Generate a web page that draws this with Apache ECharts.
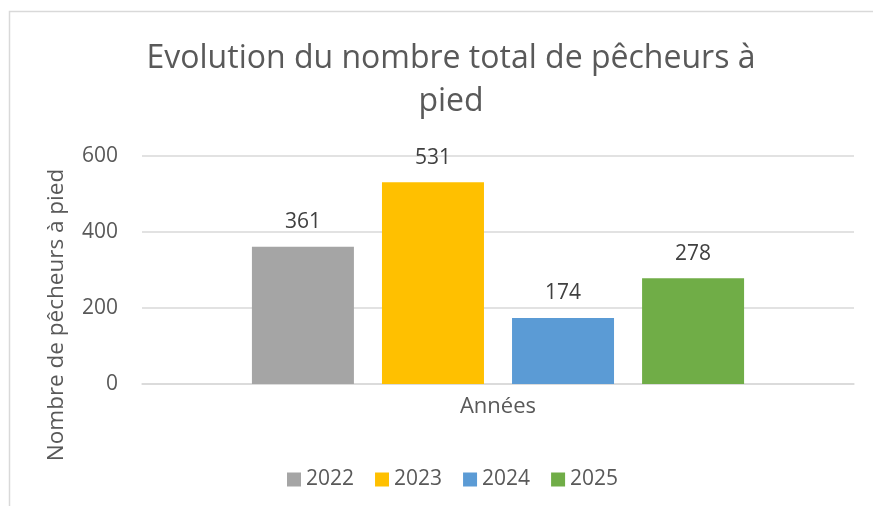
<!DOCTYPE html>
<html>
<head>
<meta charset="utf-8">
<script src="https://cdn.jsdelivr.net/npm/echarts@6/dist/echarts.min.js"></script>
<style>
  html, body { margin: 0; padding: 0; background: #fff; }
  #chart { width: 873px; height: 506px; }
</style>
</head>
<body>
<div id="chart"></div>
<script>
// data
const years = ['2022', '2023', '2024', '2025'];
const counts = [361, 531, 174, 278];
const colors = ['#A5A5A5', '#FFC000', '#5B9BD5', '#70AD47'];
const category = ['Années'];

const font = '"Open Sans", "Noto Sans", sans-serif';
const textColor = '#595959';

let myChart = echarts.init(document.getElementById('chart'), null, {renderer: 'canvas'});

const series = years.map((y, i) => ({
  name: y,
  type: 'bar',
  data: [counts[i]],
  barWidth: 102,
  barGap: '27.5%',
  itemStyle: {color: colors[i]},
  label: {
    show: true,
    position: 'top',
    distance: 14,
    color: '#404040',
    fontFamily: font,
    fontSize: 21
  }
}));

myChart.setOption({
  animation: false,
  title: {
    text: 'Evolution du nombre total de pêcheurs à\npied',
    left: 446,
    textAlign: 'center',
    top: 32,
    textStyle: {
      fontFamily: font,
      fontSize: 32,
      fontWeight: 'normal',
      color: textColor,
      lineHeight: 43
    }
  },
  legend: {
    left: 282,
    top: 464,
    itemWidth: 14,
    itemHeight: 14,
    itemGap: 21,
    icon: 'rect',
    textStyle: {fontFamily: font, fontSize: 21, color: textColor}
  },
  grid: {left: 142, right: 19, top: 156, bottom: 122},
  xAxis: {
    type: 'category',
    data: category,
    axisLine: {lineStyle: {color: '#D9D9D9', width: 1.5}},
    axisTick: {show: false},
    axisLabel: {margin: 12, fontFamily: font, fontSize: 22, color: textColor}
  },
  yAxis: {
    type: 'value',
    min: 0,
    max: 600,
    interval: 200,
    axisLine: {show: false},
    axisTick: {show: false},
    splitLine: {lineStyle: {color: '#D9D9D9', width: 1.5}},
    axisLabel: {margin: 24, fontFamily: font, fontSize: 21, color: textColor}
  },
  graphic: [
    {
      type: 'rect',
      shape: {x: 9.5, y: 11.5, width: 900, height: 600},
      style: {fill: 'none', stroke: '#D9D9D9', lineWidth: 1.5},
      silent: true
    },
    {
      type: 'text',
      x: 57,
      y: 315,
      rotation: Math.PI / 2,
      style: {
        text: 'Nombre de pêcheurs à pied',
        font: '22.5px ' + font,
        fill: textColor,
        align: 'center',
        verticalAlign: 'middle'
      }
    }
  ],
  series: series
});
</script>
</body>
</html>
